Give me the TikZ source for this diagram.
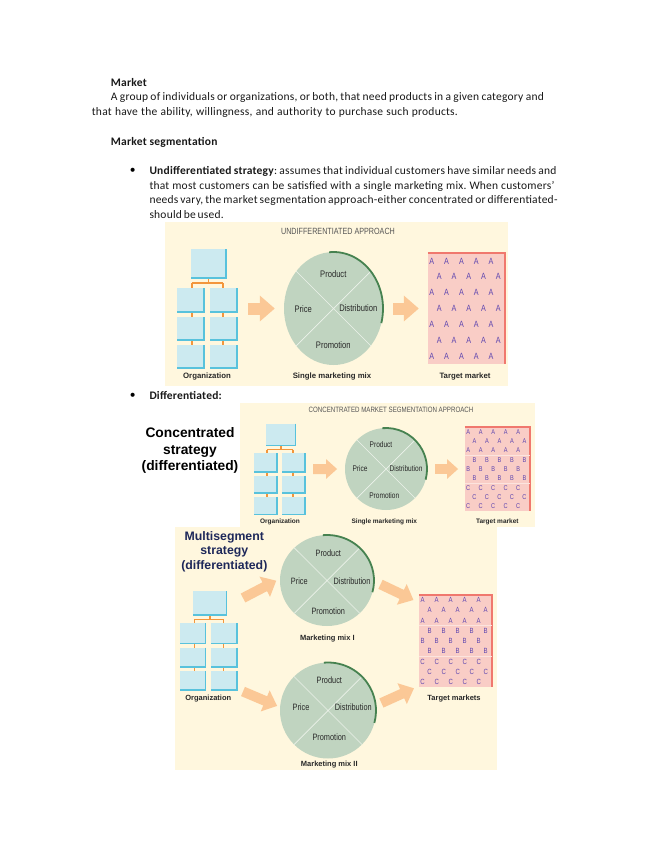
\documentclass[tikz,border=0pt]{standalone}
\usepackage{fontspec}
\setmainfont{Carlito}[LetterSpace=2]
\newfontfamily\dsans{Liberation Sans}
\newfontfamily\dcond[FakeStretch=0.8]{Liberation Sans}
\usetikzlibrary{shapes.geometric,arrows.meta,fit,calc}
\definecolor{bgcream}{RGB}{255,247,222}
\definecolor{boxfill}{RGB}{204,234,240}
\definecolor{boxedge}{RGB}{88,194,220}
\definecolor{orgline}{RGB}{243,150,60}
\definecolor{arrowc}{RGB}{251,200,150}
\definecolor{mixfill}{RGB}{192,212,192}
\definecolor{mixedge}{RGB}{70,130,80}
\definecolor{mixlinec}{RGB}{236,242,234}
\definecolor{tmfill}{RGB}{249,205,198}
\definecolor{tmedge}{RGB}{240,120,110}
\definecolor{tmsep}{RGB}{252,228,222}
\definecolor{tmletter}{RGB}{95,70,175}
\definecolor{navy}{RGB}{30,40,90}
\definecolor{textc}{RGB}{25,25,25}
\definecolor{labc}{RGB}{40,40,40}
\definecolor{titlec}{RGB}{85,85,85}
\tikzset{
  orgc/.style={draw=orgline, line width=1.5pt},
  mixline/.style={draw=mixlinec, line width=0.7pt},
  txt/.style={anchor=base west, inner sep=0pt, font=\frenchspacing\fontsize{11.5}{14}\selectfont, text=textc},
  fat/.style n args={3}{draw=arrowc, line width=#1, -{Triangle[width=#2,length=#3]}},
  dlab/.style={inner sep=0pt, text=labc},
  bigl/.style={inner sep=0pt, align=center, font=\dsans\bfseries\fontsize{13.8}{16.3}\selectfont},
}
% org chart: name, x, y, xscale, yscale
\newcommand{\orgchart}[5]{%
\begin{scope}[shift={(#2,#3)},xscale=#4,yscale=#5]
  \coordinate (#1-nw) at (0,0);
  \coordinate (#1-se) at (60,119);
  \node[fit=(#1-nw)(#1-se),inner sep=0pt] (#1) {};
  \draw[orgc] (31.5,29) -- (31.5,34) (15,34) -- (46,34) (15,34) -- (15,39) (46,34) -- (46,39)
    (15,63) -- (15,68) (46,63) -- (46,68) (15,91) -- (15,96) (46,91) -- (46,96);
  \foreach \a/\b/\c/\d in {14/0/49/29, 0/39/27/63, 33/39/60/63, 0/68/27/91, 33/68/60/91, 0/96/27/119, 33/96/60/119}{
    \fill[boxfill] (\a,\b) rectangle (\c,\d);
    \draw[boxedge, line width=1.6pt] (\c,\b) -- (\c,\d) -- (\a,\d);
  }
\end{scope}}
% marketing mix: name, x, y, rx, ry
\newcommand{\mixcircle}[5]{%
  \node[ellipse, fill=mixfill, minimum width={2*#4*1pt}, minimum height={2*#5*1pt}, inner sep=0pt] (#1) at (#2,#3) {};
  \draw[mixline] (#1.45) -- (#1.225) (#1.135) -- (#1.315);
  \draw[mixedge, line width=1.8pt] (#1.center) ++(-95:#4 and #5) arc[start angle=-95, end angle=15, x radius=#4, y radius=#5];
}
% target grid: name, x0, y0, w, h, letters, rows, fontsize
\newcommand{\tgrid}[8]{%
  \node[fill=tmfill, minimum width={#4*1pt}, minimum height={#5*1pt}, inner sep=0pt] (#1) at ({#2+#4/2},{#3+#5/2}) {};
  \draw[tmedge, line width=2.2pt] (#1.north west) -- (#1.north east) -- (#1.south east);
  \foreach \L [count=\r from 0] in {#6} {
    \pgfmathsetmacro{\off}{mod(\r,2)*0.096}
    \foreach \c in {0,...,4} {
      \node[inner sep=0pt, text=tmletter, font=\dcond\fontsize{#8}{#8}\selectfont] (#1-\r-\c)
        at ({#2+#4*(0.05+0.192*\c+\off)},{#3+#5*(\r+0.5)/#7}) {\L};
    }
  }
}
\begin{document}
\begin{tikzpicture}[x=1pt,y=-1pt]
\useasboundingbox (0,0) rectangle (655,848);
\fill[white] (0,0) rectangle (655,848);

% ---------------- text ----------------
\node[txt] (t1) at (110.7,86.7) {\textbf{Market}};
\node[txt] (t2) at (110.7,101) {\makebox[433pt][s]{A group of individuals or organizations, or both, that need products in a given category and}};
\node[txt] (t3) at (91.7,115.7) {\makebox[366pt][s]{that have the ability, willingness, and authority to purchase such products.}};
\node[txt] (t4) at (110.7,146) {\textbf{Market segmentation}};
\node[inner sep=0pt, font=\fontsize{11.5}{14}\selectfont] (b1) at (132.7,171) {\textbullet};
\node[txt] (t5) at (149.3,174.7) {\makebox[407pt][s]{\textbf{Undifferentiated strategy}: assumes that individual customers have similar needs and}};
\node[txt] (t6) at (149.3,189.2) {\makebox[405pt][s]{that most customers can be satisfied with a single marketing mix. When customers’}};
\node[txt] (t7) at (149.3,203.7) {\makebox[408pt][s]{needs vary, the market segmentation approach-either concentrated or differentiated-}};
\node[txt] (t8) at (149.3,218.2) {\makebox[72pt][s]{should be used.}};
\node[inner sep=0pt, font=\fontsize{11.5}{14}\selectfont] (b2) at (132.7,396) {\textbullet};
\node[txt] (t9) at (149.3,399.7) {\textbf{Differentiated:}};

% ---------------- diagram 1 ----------------
\fill[bgcream] (165,222) rectangle (508,386);
\node[inner sep=0pt, text=titlec, font=\dcond\fontsize{9}{9}\selectfont] (ti1) at (338,231) {UNDIFFERENTIATED APPROACH};
\orgchart{org1}{177}{249}{1}{1}
\mixcircle{mix1}{333.5}{308.5}{49.5}{56.5}
\tgrid{tm1}{428}{253}{77}{111}{A,A,A,A,A,A,A}{7}{9}
\node[dlab, font=\dcond\fontsize{9.5}{9.5}\selectfont] (m1p) at (333.3,274.3) {Product};
\node[dlab, font=\dcond\fontsize{9.5}{9.5}\selectfont] (m1r) at (303.3,309.3) {Price};
\node[dlab, font=\dcond\fontsize{9.5}{9.5}\selectfont] (m1d) at (358.3,308.3) {Distribution};
\node[dlab, font=\dcond\fontsize{9.5}{9.5}\selectfont] (m1m) at (333.3,345) {Promotion};
\node[dlab, font=\dsans\bfseries\fontsize{7.8}{7.8}\selectfont] (l1a) at (207,376) {Organization};
\node[dlab, font=\dsans\bfseries\fontsize{7.8}{7.8}\selectfont] (l1b) at (332,376) {Single marketing mix};
\node[dlab, font=\dsans\bfseries\fontsize{7.8}{7.8}\selectfont] (l1c) at (465,376) {Target market};
\draw[fat={12pt}{25pt}{15pt}, shorten <=11pt, shorten >=9pt] (org1.east) -- (mix1.west);
\draw[fat={12pt}{25pt}{15pt}, shorten <=10pt, shorten >=9pt] (mix1.east) -- (tm1.west);

% ---------------- diagram 3 background (below diagram 2) ----------------
\fill[bgcream] (175,527) rectangle (497,770);

% ---------------- diagram 2 ----------------
\fill[bgcream] (240,403) rectangle (535,527);
\node[inner sep=0pt, text=titlec, font=\dcond\fontsize{7.7}{7.7}\selectfont] (ti2) at (391,410) {CONCENTRATED MARKET SEGMENTATION APPROACH};
\node[bigl] (conc) at (190,450.5) {Concentrated\\strategy\\(differentiated)};
\orgchart{org2}{254}{423.5}{0.85}{0.765}
\mixcircle{mix2}{386}{469}{41}{41}
\tgrid{tm2}{465}{427}{65}{84}{A,A,A,B,B,B,C,C,C}{9}{7}
\draw[tmsep, line width=0.8pt] ($(tm2.north west)!1/3!(tm2.south west)$) -- ($(tm2.north east)!1/3!(tm2.south east)$);
\draw[tmsep, line width=0.8pt] ($(tm2.north west)!2/3!(tm2.south west)$) -- ($(tm2.north east)!2/3!(tm2.south east)$);
\node[dlab, font=\dcond\fontsize{8.2}{8.2}\selectfont] (m2p) at (381,444.3) {Product};
\node[dlab, font=\dcond\fontsize{8.2}{8.2}\selectfont] (m2r) at (360,469) {Price};
\node[dlab, font=\dcond\fontsize{8.2}{8.2}\selectfont] (m2d) at (406,469) {Distribution};
\node[dlab, font=\dcond\fontsize{8.2}{8.2}\selectfont] (m2m) at (384.3,495.7) {Promotion};
\node[dlab, font=\dsans\bfseries\fontsize{6.5}{6.5}\selectfont] (l2a) at (280,521.7) {Organization};
\node[dlab, font=\dsans\bfseries\fontsize{6.5}{6.5}\selectfont] (l2b) at (384.3,521.7) {Single marketing mix};
\node[dlab, font=\dsans\bfseries\fontsize{6.5}{6.5}\selectfont] (l2c) at (497.3,521.7) {Target market};
\draw[fat={10pt}{19pt}{11pt}, shorten <=8pt, shorten >=7.7pt] (org2.east) -- (mix2.west);
\draw[fat={10pt}{19pt}{11pt}, shorten <=8pt, shorten >=6.7pt] (mix2.east) -- (tm2.west);

% ---------------- diagram 3 ----------------
\node[bigl, text=navy, font=\dsans\bfseries\fontsize{12.3}{14.5}\selectfont] (multi) at (224.3,551.5) {Multisegment\\strategy\\(differentiated)};
\orgchart{org3}{180}{591}{0.95}{0.832}
\mixcircle{mix3a}{327}{580.5}{47}{45.5}
\mixcircle{mix3b}{328}{710.5}{48}{48}
\tgrid{tm3}{419}{595}{73}{92}{A,A,A,B,B,B,C,C,C}{9}{7.5}
\draw[tmsep, line width=0.8pt] ($(tm3.north west)!1/3!(tm3.south west)$) -- ($(tm3.north east)!1/3!(tm3.south east)$);
\draw[tmsep, line width=0.8pt] ($(tm3.north west)!2/3!(tm3.south west)$) -- ($(tm3.north east)!2/3!(tm3.south east)$);
\node[dlab, font=\dcond\fontsize{9.2}{9.2}\selectfont] (m3p) at (328.3,553.3) {Product};
\node[dlab, font=\dcond\fontsize{9.2}{9.2}\selectfont] (m3r) at (299.3,581.7) {Price};
\node[dlab, font=\dcond\fontsize{9.2}{9.2}\selectfont] (m3d) at (352,581.7) {Distribution};
\node[dlab, font=\dcond\fontsize{9.2}{9.2}\selectfont] (m3m) at (328.3,611.7) {Promotion};
\node[dlab, font=\dcond\fontsize{9.2}{9.2}\selectfont] (m4p) at (329.3,680) {Product};
\node[dlab, font=\dcond\fontsize{9.2}{9.2}\selectfont] (m4r) at (301,707.3) {Price};
\node[dlab, font=\dcond\fontsize{9.2}{9.2}\selectfont] (m4d) at (353.3,707.7) {Distribution};
\node[dlab, font=\dcond\fontsize{9.2}{9.2}\selectfont] (m4m) at (329.3,737.7) {Promotion};
\node[dlab, font=\dsans\bfseries\fontsize{7.5}{7.5}\selectfont] (l3a) at (208.3,698.3) {Organization};
\node[dlab, font=\dsans\bfseries\fontsize{7.5}{7.5}\selectfont] (l3b) at (327.3,638.3) {Marketing mix I};
\node[dlab, font=\dsans\bfseries\fontsize{7.5}{7.5}\selectfont] (l3c) at (454,698.3) {Target markets};
\node[dlab, font=\dsans\bfseries\fontsize{7.5}{7.5}\selectfont] (l3d) at (329.3,765) {Marketing mix II};
\coordinate (s3a) at (243,598);
\coordinate (s3b) at (243,691.5);
\coordinate (e3a) at (413.5,600);
\coordinate (e3b) at (414,688.3);
\draw[fat={10pt}{22pt}{13pt}, shorten >=4pt] (s3a) -- (mix3a.178);
\draw[fat={10pt}{22pt}{13pt}, shorten >=3pt] (s3b) -- (mix3b.176);
\draw[fat={10pt}{22pt}{13pt}, shorten <=7pt] (mix3a.-1) -- (e3a);
\draw[fat={10pt}{22pt}{13pt}, shorten <=6pt] (mix3b.6) -- (e3b);
\end{tikzpicture}
\end{document}
